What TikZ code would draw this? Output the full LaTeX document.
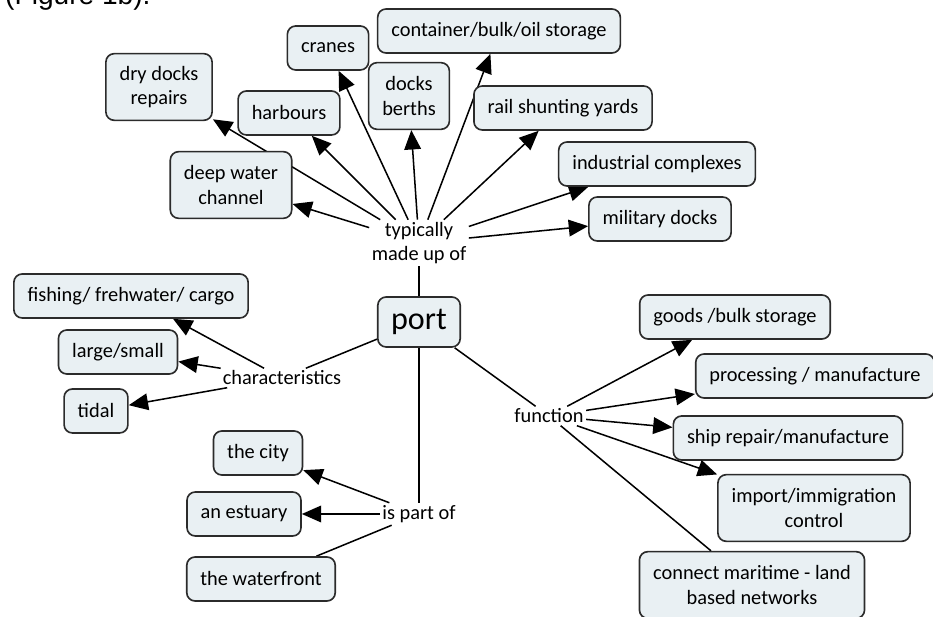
\documentclass[tikz,border=0pt]{standalone}
\usepackage{fontspec}
\setmainfont{Carlito}
\newfontfamily\captionfont{Liberation Sans}
\usepackage{xcolor}
\usetikzlibrary{arrows.meta, positioning, backgrounds}
\definecolor{conceptfill}{HTML}{E9F0F3}
\definecolor{conceptdraw}{HTML}{2B2B2B}

\begin{document}
\begin{tikzpicture}[node distance=1cm, on grid]
    % Node Styles
    \tikzstyle{concept} = [rectangle, draw=conceptdraw, line width=1.4pt, fill=conceptfill, rounded corners=0.25cm, align=center, inner xsep=0.41cm, inner ysep=2pt, minimum height=1.32cm, font=\fontsize{17.4}{20.5}\selectfont]
    \tikzstyle{twoline} = [concept, minimum height=2cm]
    \tikzstyle{hub} = [concept, minimum height=1.5cm, inner xsep=0.4cm, font=\fontsize{27.4}{32}\selectfont]
    \tikzstyle{phrase} = [inner sep=2pt, align=center, font=\fontsize{17.4}{20.5}\selectfont]
    \tikzstyle{link} = [draw, line width=1.3pt, -{Triangle[length=0.58cm, width=0.5cm]}]
    \tikzstyle{joint} = [draw, line width=1.3pt]

    \useasboundingbox (0,0) rectangle (27.99,18.51);
    \clip (0,0) rectangle (27.99,18.51);

    % --- caption remnant at the top ---
    \node [anchor=base west, inner sep=0pt, font=\captionfont\fontsize{24}{28}\selectfont] (caption) at (0.15,18.36) {(Figure 1b).};

    % --- CENTRE ---
    \node [hub] (port) at (12.57,8.85) {port};
    \node [phrase, above=2.37cm of port] (typ) {typically\\made up of};
    \node [phrase, below left=1.68cm and 4.11cm of port] (char) {characteristics};
    \node [phrase, below=5.76cm of port] (part) {is part of};
    \node [phrase, below right=2.82cm and 3.9cm of port] (func) {function};

    % --- TYPICALLY MADE UP OF ---
    \node [twoline, above left=4.68cm and 7.8cm of typ] (ddr) {dry docks\\repairs};
    \node [concept, above left=3.9cm and 3.9cm of typ] (harb) {harbours};
    \node [concept, above left=5.85cm and 2.73cm of typ] (cran) {cranes};
    \node [twoline, above left=4.41cm and 0.3cm of typ] (dock) {docks\\berths};
    \node [twoline, above left=1.74cm and 5.64cm of typ] (dwc) {deep water\\channel};
    \node [concept, above right=6.36cm and 2.4cm of typ] (cont) {container/bulk/oil storage};
    \node [concept, above right=4.05cm and 4.32cm of typ] (rail) {rail shunting yards};
    \node [concept, above right=2.37cm and 7.14cm of typ] (ind) {industrial complexes};
    \node [concept, above right=0.72cm and 7.23cm of typ] (mil) {military docks};

    % --- CHARACTERISTICS ---
    \node [concept, above left=2.46cm and 4.53cm of char] (fish) {fishing/ frehwater/ cargo};
    \node [concept, above left=0.78cm and 4.92cm of char] (large) {large/small};
    \node [concept, below left=0.99cm and 5.58cm of char] (tidal) {tidal};

    % --- IS PART OF ---
    \node [concept, above left=1.83cm and 4.83cm of part] (city) {the city};
    \node [concept, left=5.25cm of part] (estu) {an estuary};
    \node [concept, below left=1.95cm and 4.74cm of part] (water) {the waterfront};

    % --- FUNCTION ---
    \node [concept, above right=2.97cm and 5.58cm of func] (goods) {goods /bulk storage};
    \node [concept, above right=1.2cm and 7.98cm of func] (proc) {processing / manufacture};
    \node [concept, below right=0.66cm and 7.17cm of func] (ship) {ship repair/manufacture};
    \node [twoline, below right=2.76cm and 7.95cm of func] (imp) {import/immigration\\control};
    \node [twoline, below right=5.07cm and 6.09cm of func] (conn) {connect maritime - land\\based networks};

    % --- PATHS ---
    \begin{scope}[on background layer]
    \path [joint] (port) -- (typ);
    \path [joint] (port) -- (char);
    \path [joint] (port) -- (part);
    \path [joint] (port) -- (func);

    \path [link] (typ) -- (ddr);
    \path [link] (typ) -- (harb);
    \path [link] (typ) -- (cran);
    \path [link] (typ) -- (dock);
    \path [link] (typ) -- (dwc);
    \path [link] (typ) -- (cont);
    \path [link] (typ) -- (rail);
    \path [link] (typ) -- (ind);
    \path [link] (typ) -- (mil);

    \path [link] (char) -- (fish);
    \path [link] (char) -- (large);
    \path [link] (char) -- (tidal);

    \path [link] (part) -- (city);
    \path [link] (part) -- (estu);
    \path [joint] (part) -- (water);

    \path [link] (func) -- (goods);
    \path [link] (func) -- (proc);
    \path [link] (func) -- (ship);
    \path [joint] (func) -- (conn);
    \end{scope}
    \path [link] (func) -- (imp);

\end{tikzpicture}
\end{document}
